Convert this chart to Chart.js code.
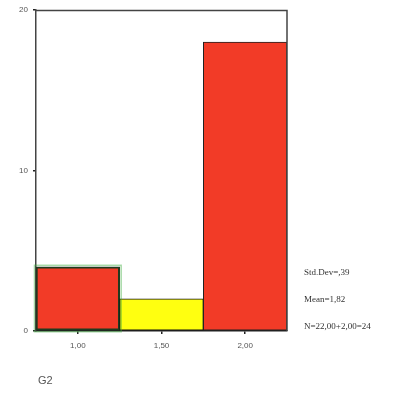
<!DOCTYPE html>
<html><head><meta charset="utf-8">
<script src="https://cdn.jsdelivr.net/npm/chart.js@4"></script>
<style>
body{margin:0;background:#fff;}
#wrap{position:relative;width:404px;height:396px;}
canvas{position:absolute;left:0;top:0;}
.st{position:absolute;font-family:"Liberation Serif",serif;font-size:9px;color:#333;white-space:nowrap;line-height:10px;}
.g2{position:absolute;font-family:"Liberation Sans",sans-serif;font-size:11px;color:#555;left:38px;top:374px;}
</style></head>
<body>
<div id="wrap">
<canvas id="c" width="404" height="396"></canvas>
<div class="st" style="left:304px;top:267px">Std.Dev=,39</div>
<div class="st" style="left:304px;top:294px">Mean=1,82</div>
<div class="st" style="left:304px;top:321px">N=22,00+2,00=24</div>
<div class="g2">G2</div>
</div>
<script>
const categories = ["1,00", "1,50", "2,00"];
const counts = [4, 2, 18];
const barColors = ["#f23b27", "#ffff10", "#f23b27"];
const barBorders = ["#1f3a1f", "#111111", "#222222"];
const barBorderWidths = [2, 1, 1];
const yTicks = [0, 10, 20];

const frame = {
  id: 'frame',
  afterDatasetsDraw(chart) {
    const {ctx, chartArea: a} = chart;
    ctx.save();
    ctx.strokeStyle = '#444';
    ctx.lineWidth = 1.5;
    ctx.beginPath();
    ctx.moveTo(a.left, a.top + 0.5);
    ctx.lineTo(a.right, a.top + 0.5);
    ctx.lineTo(a.right, a.bottom);
    ctx.stroke();
    const el = chart.getDatasetMeta(0).data[0];
    ctx.strokeStyle = 'rgba(60,170,60,0.45)';
    ctx.lineWidth = 1.5;
    ctx.strokeRect(el.x - el.width/2 - 1.5, el.y - 1.5, el.width + 3, el.base - el.y + 3);
    ctx.restore();
  }
};

new Chart(document.getElementById('c'), {
  type: 'bar',
  data: {
    labels: categories,
    datasets: [{
      data: counts,
      backgroundColor: barColors,
      borderColor: barBorders,
      borderWidth: barBorderWidths,
      borderSkipped: false,
      barPercentage: 1,
      categoryPercentage: 1
    }]
  },
  options: {
    responsive: false,
    animation: false,
    devicePixelRatio: 1,
    layout: {padding: {left: 0, right: 117, top: 10, bottom: 0}},
    plugins: {legend: {display: false}, tooltip: {enabled: false}},
    scales: {
      x: {
        grid: {display: true, drawOnChartArea: false, offset: false, tickLength: 3, color: '#222', lineWidth: 1.5},
        border: {display: true, color: '#222', width: 1.5},
        ticks: {color: '#555', font: {family: 'Liberation Sans', size: 8}, padding: 7},
        afterFit(s) { s.height = 396 - 331; }
      },
      y: {
        min: 0, max: 20,
        afterBuildTicks(s) { s.ticks = yTicks.map(v => ({value: v})); },
        grid: {display: true, drawOnChartArea: false, tickLength: 3, color: '#222', lineWidth: 1.5},
        border: {display: true, color: '#444', width: 1.5},
        ticks: {color: '#555', font: {family: 'Liberation Sans', size: 8}, padding: 5},
        afterFit(s) { s.width = 36; }
      }
    }
  },
  plugins: [frame]
});
</script>
</body></html>
